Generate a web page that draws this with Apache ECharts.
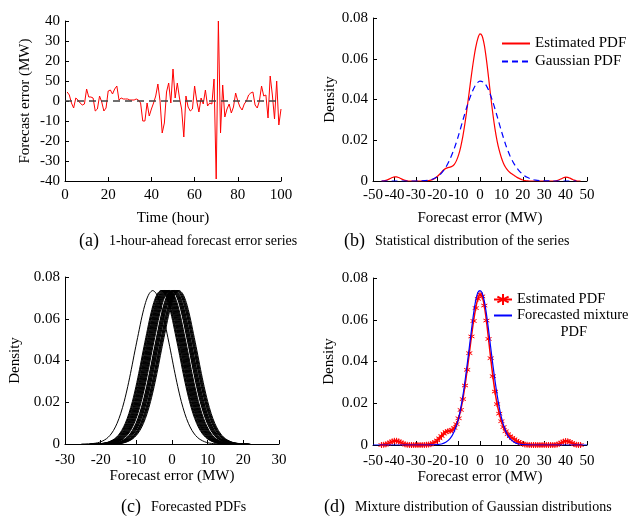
<!DOCTYPE html>
<html><head><meta charset="utf-8">
<script src="https://cdn.jsdelivr.net/npm/echarts@6/dist/echarts.min.js"></script>
<style>html,body{margin:0;padding:0;background:#fff}#c{width:634px;height:517px}</style>
</head><body><div id="c"></div>
<script>
// ---------- Panel (a): 1-hour-ahead forecast error series ----------
const hours = [1,2,3,4,5,6,7,8,9,10,11,12,13,14,15,16,17,18,19,20,21,22,23,24,25,26,27,28,29,30,31,32,33,34,35,36,37,38,39,40,41,42,43,44,45,46,47,48,49,50,51,52,53,54,55,56,57,58,59,60,61,62,63,64,65,66,67,68,69,70,71,72,73,74,75,76,77,78,79,80,81,82,83,84,85,86,87,88,89,90,91,92,93,94,95,96,97,98,99,100];
const forecastError = [4.5,3,-1,-3.5,1.5,0.5,-1,-2,-1.5,6,2,2,1.5,-5,-4,2.5,-0.5,-5,-3.5,5,5.5,3.5,6,7.5,0.5,1.5,1,1,1,0.5,0.5,0.5,1,0.5,-1,-10,-10,-1,-7.5,-4,-1,2.5,8.5,0,-16,-11,4.5,9,-1,16,1.5,9,1.5,-4,-18,2.5,-3,-5,-4,7.5,0,-5.5,1.5,-1.5,5.5,-2.5,-1,-1.5,11,-39,40,-16,8,-8,-4,-1.5,-6,-3,4,0,-3,-4.5,-1.5,0,3,4,4.5,-2,-3.5,0,7.5,2.5,3,-8.5,12.5,3,-9,10,-12,-4];
const aXTickLabels = ['0','20','40','60','80','100'];
const aYTickLabels = ['-40','-30','-20','-10','0','50','20','30','40'];

// ---------- Panels (b) and (d): estimated PDF ----------
const pdfX = [-46,-45,-44,-43,-42,-41,-40,-39,-38,-37,-36,-35,-34,-33,-32,-31,-30,-29,-28,-27,-26,-25,-24,-23,-22,-21,-20,-19,-18,-17,-16,-15,-14,-13,-12,-11,-10,-9,-8,-7,-6,-5,-4,-3,-2,-1,0,1,2,3,4,5,6,7,8,9,10,11,12,13,14,15,16,17,18,19,20,21,22,23,24,25,26,27,28,29,30,31,32,33,34,35,36,37,38,39,40,41,42,43,44,45,46,47];
const estimatedPdf = [0,0.0001,0.0003,0.0007,0.0012,0.0017,0.0020,0.0020,0.0017,0.0012,0.0007,0.0003,0.0001,0,0,0,0,0,0,0,0,0.0001,0.0002,0.0004,0.0008,0.0014,0.0022,0.0032,0.0043,0.0054,0.0062,0.0066,0.0068,0.0072,0.0082,0.0100,0.0128,0.0168,0.0220,0.0285,0.0360,0.0440,0.0520,0.0594,0.0656,0.0700,0.0722,0.0712,0.0668,0.0596,0.0508,0.0416,0.0330,0.0256,0.0196,0.0150,0.0114,0.0086,0.0066,0.0052,0.0042,0.0034,0.0027,0.0020,0.0014,0.0009,0.0005,0.0002,0.0001,0,0,0,0,0,0,0,0,0,0,0,0,0,0.0002,0.0006,0.0011,0.0016,0.0019,0.0018,0.0014,0.0009,0.0004,0.0001,0,0];

// ---------- Panel (b): Gaussian PDF ----------
const gaussX = [-46,-40,-34,-30,-28,-26,-24,-22,-20,-18,-16,-14,-12,-10,-8,-6,-4,-2,0,2,4,6,8,10,12,14,16,18,20,22,24,26,28,30,34,40,45];
const gaussianPdf = [0,0,0,0,0.0001,0.0002,0.0004,0.0010,0.0021,0.0039,0.0067,0.0108,0.0160,0.0225,0.0298,0.0368,0.0428,0.0472,0.0490,0.0482,0.0446,0.0388,0.0318,0.0245,0.0178,0.0124,0.0083,0.0053,0.0032,0.0018,0.0009,0.0004,0.0002,0.0001,0,0,0];

// ---------- Panel (d): forecasted mixture PDF ----------
const mixtureX = [-50,-40,-30,-24,-22,-20,-18,-16,-14,-12,-10,-8,-6,-4,-3,-2,-1,0,1,2,3,4,6,8,10,12,14,16,18,20,22,24,30,40,50];
const mixturePdf = [0,0,0,0,0.0001,0.0002,0.0005,0.0013,0.0030,0.0066,0.0128,0.0235,0.0385,0.0550,0.0630,0.0693,0.0730,0.0740,0.0728,0.0690,0.0628,0.0552,0.0385,0.0240,0.0132,0.0066,0.0030,0.0013,0.0005,0.0002,0.0001,0,0,0,0];

// ---------- Panel (c): forecasted PDFs (one read profile, shifted to each read centre) ----------
const profileOffsets = [-20,-19,-18,-17,-16,-15,-14,-13,-12,-11,-10,-9,-8,-7,-6,-5,-4,-3,-2,-1,0,1,2,3,4,5,6,7,8,9,10,11,12,13,14,15,16,17,18,19,20];
const profileDensity = [0,0,0.0001,0.0002,0.0004,0.0008,0.0015,0.0025,0.0041,0.0065,0.0099,0.0145,0.0204,0.0276,0.0358,0.0446,0.0530,0.0612,0.0678,0.0720,0.0735,0.0720,0.0678,0.0612,0.0530,0.0446,0.0358,0.0276,0.0204,0.0145,0.0099,0.0065,0.0041,0.0025,0.0015,0.0008,0.0004,0.0002,0.0001,0,0];
const forecastCentres = [-5.4,-3.1,-2.9,-2.8,-2.6,-2.4,-2.3,-2.1,-2.0,-1.8,-1.7,-1.5,-1.4,-1.2,-1.1,-0.9,-0.8,-0.6,-0.1,0.0,0.2,0.3,0.5,0.6,0.8,0.9,1.2,1.3,1.5,1.6,1.8,2.0];

const F = '"Liberation Serif","Times New Roman",serif';
const txt = {color:'#000', fontFamily:F, fontWeight:'normal'};

function axis(gi, extra){
  return Object.assign({
    gridIndex: gi, type:'value',
    axisLine:{show:true, onZero:false, lineStyle:{color:'#000', width:1}},
    axisTick:{show:true, inside:true, length:4, lineStyle:{color:'#000'}},
    axisLabel:Object.assign({fontSize:15, margin:7}, txt),
    splitLine:{show:false},
    nameLocation:'middle',
    nameTextStyle:Object.assign({fontSize:15}, txt)
  }, extra);
}
function xy(xs, ys){ return xs.map((x,i)=>[x, ys[i]]); }

const series = [];
series.push({
  type:'line', xAxisIndex:0, yAxisIndex:0, data:xy(hours, forecastError),
  showSymbol:false, symbol:'none', lineStyle:{color:'#ff0000', width:1}, z:3,
  markLine:{silent:true, symbol:'none', label:{show:false}, animation:false,
    lineStyle:{color:'#404040', type:[7,5], width:1.5}, data:[{yAxis:0}]}
});
series.push({name:'Estimated PDF', type:'line', xAxisIndex:1, yAxisIndex:1, data:xy(pdfX, estimatedPdf),
  smooth:0.3, symbol:'none', lineStyle:{color:'#ff0000', width:1.2}, itemStyle:{color:'#ff0000'}});
series.push({name:'Gaussian PDF', type:'line', xAxisIndex:1, yAxisIndex:1, data:xy(gaussX, gaussianPdf),
  smooth:0.3, symbol:'none', lineStyle:{color:'#0000ff', width:1.2, type:[6,4]}, itemStyle:{color:'#0000ff'}});
forecastCentres.forEach((c)=>{
  series.push({type:'line', xAxisIndex:2, yAxisIndex:2,
    data:profileOffsets.map((o,i)=>[c + o, profileDensity[i]]),
    smooth:0.3, symbol:'none', lineStyle:{color:'#000', width:1}});
});
const star = 'path://M0,-5L0,5M-4.33,-2.5L4.33,2.5M-4.33,2.5L4.33,-2.5';
series.push({name:'Estimated PDF ', type:'line', xAxisIndex:3, yAxisIndex:3, data:xy(pdfX, estimatedPdf),
  smooth:0.3, symbol:star, symbolSize:6, showSymbol:true,
  itemStyle:{color:'#ff0000', borderColor:'#ff0000', borderWidth:1},
  lineStyle:{color:'#ff0000', width:1.5}, z:2});
series.push({name:'Forecasted mixture PDF', type:'line', xAxisIndex:3, yAxisIndex:3, data:xy(mixtureX, mixturePdf),
  smooth:0.3, symbol:'none', lineStyle:{color:'#0000ff', width:1.2}, itemStyle:{color:'#0000ff'}, z:3});

function caption(left, top, tag, text){
  return {text:'{p|'+tag+'}  {t|'+text+'}', left:left, top:top,
    textStyle:{rich:{p:Object.assign({fontSize:18}, txt), t:Object.assign({fontSize:14}, txt)}}};
}
const hideMarker = {opacity:0, color:'transparent', borderColor:'transparent'};

const option = {
  animation:false,
  backgroundColor:'#fff',
  title:[
    caption(74, 227, '(a)', '1-hour-ahead forecast error series'),
    caption(339, 227, '(b)', 'Statistical distribution of the series'),
    caption(116, 493, '(c)', 'Forecasted PDFs'),
    caption(319, 493, '(d)', 'Mixture distribution of Gaussian distributions')
  ],
  legend:[
    {data:[{name:'Estimated PDF', itemStyle:hideMarker}, {name:'Gaussian PDF', itemStyle:hideMarker}],
     orient:'vertical', left:496, top:30,
     itemWidth:28, itemHeight:14, itemGap:1, textStyle:Object.assign({fontSize:15, lineHeight:17}, txt)},
    {data:[{name:'Estimated PDF '}, {name:'Forecasted mixture PDF', itemStyle:hideMarker}],
     orient:'vertical', left:488, top:285,
     formatter:n => n==='Forecasted mixture PDF' ? '\nForecasted mixture\n            PDF' : 'Estimated PDF',
     itemWidth:18, itemHeight:14, itemGap:-18, textStyle:Object.assign({fontSize:14.5, lineHeight:17}, txt)}
  ],
  grid:[
    {left:65, top:21, width:216, height:160},
    {left:373, top:18, width:214, height:163},
    {left:65, top:277, width:214, height:167},
    {left:373, top:278, width:214, height:167}
  ],
  xAxis:[
    axis(0, {min:0, max:100, interval:20, name:'Time (hour)', nameGap:30,
      axisLabel:Object.assign({fontSize:15, margin:7, formatter:v=>aXTickLabels[v/20]}, txt)}),
    axis(1, {min:-50, max:50, interval:10, name:'Forecast error (MW)', nameGap:30}),
    axis(2, {min:-30, max:30, interval:10, name:'Forecast error (MW)', nameGap:25, axisLabel:Object.assign({fontSize:15, margin:9}, txt)}),
    axis(3, {min:-50, max:50, interval:10, name:'Forecast error (MW)', nameGap:25, axisLabel:Object.assign({fontSize:15, margin:9}, txt)})
  ],
  yAxis:[
    axis(0, {min:-40, max:40, interval:10, name:'Forecast error (MW)', nameGap:32,
      axisLabel:Object.assign({fontSize:15, margin:5, formatter:v=>aYTickLabels[(v+40)/10]}, txt)}),
    axis(1, {min:0, max:0.08, interval:0.02, name:'Density', nameGap:33, axisLabel:Object.assign({fontSize:15, margin:5}, txt)}),
    axis(2, {min:0, max:0.08, interval:0.02, name:'Density', nameGap:42, axisLabel:Object.assign({fontSize:15, margin:5}, txt)}),
    axis(3, {min:0, max:0.08, interval:0.02, name:'Density', nameGap:36, axisLabel:Object.assign({fontSize:15, margin:5}, txt)})
  ],
  series:series
};
const chart = echarts.init(document.getElementById('c'), null, {renderer:'canvas'});
chart.setOption(option);
</script>
</body></html>
